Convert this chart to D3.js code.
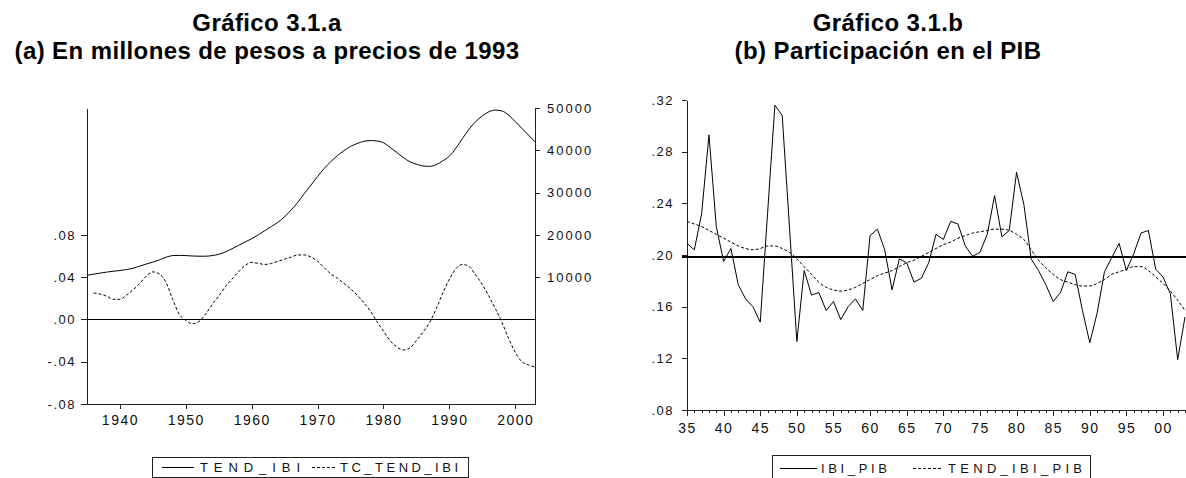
<!DOCTYPE html>
<html lang="es">
<head>
<meta charset="UTF-8">
<title>Gráfico 3.1</title>
<style>
  body { margin: 0; background: #fff; }
  svg { display: block; font-family: "Liberation Sans", Arial, sans-serif; }
  .axis path, .axis line { stroke: #222; shape-rendering: crispEdges; }
  .axis text { fill: #111; letter-spacing: 1.5px; }
  .title { font-weight: bold; font-size: 24px; letter-spacing: 0.4px; fill: #000; text-anchor: middle; }
  .leg { font-size: 13px; fill: #111; }
</style>
</head>
<body>
<script src="https://d3js.org/d3.v7.min.js"></script>
<script>
// ---- data ----
var years = d3.range(1935, 2004); // 1935..2003

// TEND_IBI (millones de pesos de 1993, eje derecho)
var tendIbi = [10450, 10700, 10950, 11200, 11400, 11560, 11800, 12100, 12600, 13100,
  13550, 14100, 14700, 15100, 15150, 15100, 15000, 14950, 14950, 15100,
  15400, 15950, 16700, 17500, 18300, 19100, 20000, 21000, 22000, 23000,
  24300, 25900, 27700, 29800, 31800, 33800, 35700, 37300, 38700, 39900,
  40900, 41600, 42100, 42300, 42200, 41800, 40700, 39500, 38300, 37300,
  36700, 36300, 36200, 36600, 37500, 38600, 40500, 42800, 45000, 46800,
  48100, 49100, 49500, 49300, 48300, 46800, 45200, 43600, 42000];

// TC_TEND_IBI (tasa de crecimiento, eje izquierdo), desde 1936
var tcTendIbi = [null, 0.025, 0.024, 0.022, 0.019, 0.019, 0.023, 0.028, 0.034, 0.041,
  0.045, 0.043, 0.035, 0.019, 0.005, -0.001, -0.004, -0.002, 0.005, 0.014,
  0.022, 0.031, 0.038, 0.045, 0.051, 0.054, 0.053, 0.052, 0.053, 0.055,
  0.057, 0.059, 0.061, 0.061, 0.059, 0.055, 0.049, 0.043, 0.039, 0.034,
  0.029, 0.023, 0.016, 0.008, -0.002, -0.011, -0.020, -0.026, -0.029, -0.027,
  -0.020, -0.012, -0.003, 0.010, 0.025, 0.038, 0.048, 0.052, 0.050, 0.042,
  0.033, 0.022, 0.010, -0.003, -0.018, -0.031, -0.040, -0.043, -0.045];

// IBI_PIB
var ibiPib = [0.209, 0.204, 0.232, 0.293, 0.222, 0.195, 0.205, 0.177, 0.166, 0.160,
  0.148, 0.232, 0.316, 0.308, 0.221, 0.133, 0.188, 0.169, 0.171, 0.157,
  0.164, 0.150, 0.160, 0.166, 0.157, 0.215, 0.220, 0.204, 0.173, 0.197,
  0.194, 0.179, 0.182, 0.194, 0.216, 0.212, 0.226, 0.224, 0.207, 0.199,
  0.202, 0.216, 0.246, 0.214, 0.219, 0.264, 0.239, 0.197, 0.188, 0.177,
  0.164, 0.171, 0.187, 0.185, 0.157, 0.132, 0.155, 0.187, 0.198, 0.209,
  0.188, 0.201, 0.217, 0.219, 0.189, 0.183, 0.170, 0.119, 0.152];

// TEND_IBI_PIB
var tendIbiPib = [0.226, 0.224, 0.222, 0.219, 0.216, 0.213, 0.210, 0.207, 0.205, 0.204,
  0.205, 0.207, 0.207, 0.205, 0.202, 0.197, 0.191, 0.185, 0.179, 0.175,
  0.173, 0.172, 0.173, 0.175, 0.178, 0.181, 0.184, 0.186, 0.188, 0.191,
  0.194, 0.196, 0.199, 0.202, 0.205, 0.208, 0.210, 0.213, 0.215, 0.217,
  0.218, 0.219, 0.220, 0.220, 0.219, 0.216, 0.212, 0.204, 0.196, 0.190,
  0.185, 0.181, 0.179, 0.177, 0.176, 0.176, 0.178, 0.181, 0.185, 0.187,
  0.189, 0.191, 0.191, 0.188, 0.183, 0.178, 0.172, 0.165, 0.157];

var ibiPibMean = 0.1985;

var leftTicks = [-0.08, -0.04, 0, 0.04, 0.08];
var rightTicks = [10000, 20000, 30000, 40000, 50000];
var decadeTicks = [1940, 1950, 1960, 1970, 1980, 1990, 2000];
var pibTicks = [0.08, 0.12, 0.16, 0.20, 0.24, 0.28, 0.32];

var width = 1186, height = 478;
var svg = d3.select("body").append("svg")
  .attr("width", width).attr("height", height);

// short format like ".08", "-.04"
function shortFmt(d) {
  var s = d3.format(".2f")(Math.abs(d)).replace(/^0/, "");
  return (d < 0 ? "-" : "") + s;
}

// ---- titles ----
svg.append("text").attr("class", "title").attr("x", 267).attr("y", 31).text("Gráfico 3.1.a");
svg.append("text").attr("class", "title").attr("x", 267).attr("y", 59).text("(a) En millones de pesos a precios de 1993");
svg.append("text").attr("class", "title").attr("x", 888).attr("y", 31).text("Gráfico 3.1.b");
svg.append("text").attr("class", "title").attr("x", 888).attr("y", 59).text("(b) Participación en el PIB");

// ================= chart a =================
var xA = d3.scaleLinear().domain([1935, 2003]).range([87, 535]);
var yL = d3.scaleLinear().domain([-0.08, 0.2]).range([404, 108]);
var yR = d3.scaleLinear().domain([-20000, 50000]).range([404, 108]);

var gA = svg.append("g");

gA.append("g").attr("class", "axis")
  .attr("transform", "translate(87,0)")
  .call(d3.axisLeft(yL).tickValues(leftTicks).tickFormat(shortFmt).tickSize(6).tickSizeOuter(0).tickPadding(5))
  .selectAll("text").style("font-size", "13px").style("font-family", "Liberation Sans, Arial");

gA.append("g").attr("class", "axis")
  .attr("transform", "translate(535,0)")
  .call(d3.axisRight(yR).tickValues(rightTicks).tickFormat(d3.format("d")).tickSize(5).tickSizeOuter(0).tickPadding(7))
  .selectAll("text").style("font-size", "13px").style("letter-spacing", "2px").style("font-family", "Liberation Sans, Arial");

gA.append("g").attr("class", "axis")
  .attr("transform", "translate(0,404)")
  .call(d3.axisBottom(xA).tickValues(decadeTicks).tickFormat(d3.format("d")).tickSize(5).tickSizeOuter(0).tickPadding(6))
  .selectAll("text").style("font-size", "14px").style("font-family", "Liberation Sans, Arial");

// zero line
gA.append("line")
  .attr("x1", xA(1935)).attr("x2", xA(2003))
  .attr("y1", yL(0)).attr("y2", yL(0))
  .attr("stroke", "#000").attr("stroke-width", 1).attr("shape-rendering", "crispEdges");

var lineTend = d3.line()
  .x(function(d, i) { return xA(years[i]); })
  .y(function(d) { return yR(d); })
  .curve(d3.curveMonotoneX);

var lineTc = d3.line()
  .defined(function(d) { return d !== null; })
  .x(function(d, i) { return xA(years[i]); })
  .y(function(d) { return yL(d); })
  .curve(d3.curveMonotoneX);

gA.append("path").datum(tendIbi)
  .attr("d", lineTend).attr("fill", "none").attr("stroke", "#000").attr("stroke-width", 1);

gA.append("path").datum(tcTendIbi)
  .attr("d", lineTc).attr("fill", "none").attr("stroke", "#000").attr("stroke-width", 1)
  .attr("stroke-dasharray", "3,2");

// legend a
var legA = gA.append("g");
legA.append("rect").attr("x", 152.5).attr("y", 457.5).attr("width", 316).attr("height", 20)
  .attr("fill", "none").attr("stroke", "#222");
legA.append("line").attr("x1", 162).attr("x2", 194).attr("y1", 467.5).attr("y2", 467.5).attr("stroke", "#000");
legA.append("text").attr("class", "leg").attr("x", 200).attr("y", 472)
  .attr("textLength", 100).attr("lengthAdjust", "spacing").text("TEND_IBI");
legA.append("line").attr("x1", 312).attr("x2", 336).attr("y1", 467.5).attr("y2", 467.5)
  .attr("stroke", "#000").attr("stroke-dasharray", "3,2");
legA.append("text").attr("class", "leg").attr("x", 340).attr("y", 472)
  .attr("textLength", 118).attr("lengthAdjust", "spacing").text("TC_TEND_IBI");

// ================= chart b =================
var xB = d3.scaleLinear().domain([1935, 2003]).range([687, 1185]);
var yB = d3.scaleLinear().domain([0.08, 0.32]).range([410, 100]);

var gB = svg.append("g");

gB.append("g").attr("class", "axis")
  .attr("transform", "translate(687,0)")
  .call(d3.axisLeft(yB).tickValues(pibTicks).tickFormat(shortFmt).tickSize(5).tickSizeOuter(0).tickPadding(8))
  .selectAll("text").style("font-size", "13px").style("font-family", "Liberation Sans, Arial");

// minor ticks every year
gB.append("g").attr("class", "axis")
  .attr("transform", "translate(0,410)")
  .call(d3.axisBottom(xB).tickValues(years).tickFormat("").tickSize(3).tickSizeOuter(0));

// major ticks every 5 years
gB.append("g").attr("class", "axis")
  .attr("transform", "translate(0,410)")
  .call(d3.axisBottom(xB).tickValues(years.filter(function(y) { return y % 5 === 0; }))
    .tickFormat(function(y) { return d3.format("02d")(y % 100); })
    .tickSize(6).tickSizeOuter(0).tickPadding(7))
  .call(function(g) { g.select(".domain").remove(); })
  .selectAll("text").style("font-size", "14px").style("font-family", "Liberation Sans, Arial");

// mean line
gB.append("line")
  .attr("x1", 682).attr("x2", width)
  .attr("y1", yB(ibiPibMean)).attr("y2", yB(ibiPibMean))
  .attr("stroke", "#000").attr("stroke-width", 2);

var lineIbiPib = d3.line()
  .x(function(d, i) { return xB(years[i]); })
  .y(function(d) { return yB(d); });

var lineTendPib = d3.line()
  .x(function(d, i) { return xB(years[i]); })
  .y(function(d) { return yB(d); })
  .curve(d3.curveMonotoneX);

gB.append("path").datum(ibiPib)
  .attr("d", lineIbiPib).attr("fill", "none").attr("stroke", "#000").attr("stroke-width", 1);

gB.append("path").datum(tendIbiPib)
  .attr("d", lineTendPib).attr("fill", "none").attr("stroke", "#000").attr("stroke-width", 1)
  .attr("stroke-dasharray", "3,2");

// legend b
var legB = gB.append("g");
legB.append("rect").attr("x", 772.5).attr("y", 455.5).attr("width", 318).attr("height", 30)
  .attr("fill", "none").attr("stroke", "#222");
legB.append("line").attr("x1", 780).attr("x2", 817).attr("y1", 468.5).attr("y2", 468.5).attr("stroke", "#000");
legB.append("text").attr("class", "leg").attr("x", 821).attr("y", 473)
  .attr("textLength", 66).attr("lengthAdjust", "spacing").text("IBI_PIB");
legB.append("line").attr("x1", 913).attr("x2", 943).attr("y1", 468.5).attr("y2", 468.5)
  .attr("stroke", "#000").attr("stroke-dasharray", "3,2");
legB.append("text").attr("class", "leg").attr("x", 948).attr("y", 473)
  .attr("textLength", 134).attr("lengthAdjust", "spacing").text("TEND_IBI_PIB");
</script>
</body>
</html>
